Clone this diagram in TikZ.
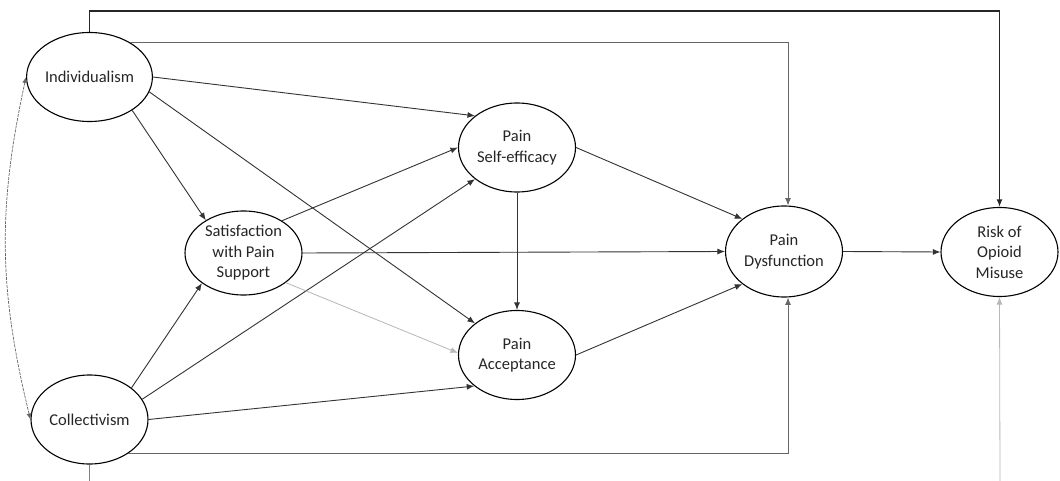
\documentclass[tikz,border=0pt]{standalone}
\usepackage{fontspec}
\setmainfont{Carlito}
\usetikzlibrary{shapes.geometric,arrows.meta}
\begin{document}
\begin{tikzpicture}[x=1pt,y=-1pt,
  latent/.style={draw=black,line width=1.1pt,ellipse,minimum width=117pt,minimum height=89pt,inner sep=0pt,align=center,font=\fontsize{16.5}{20.5}\selectfont,text=black!85},
  tip/.style={-{Latex[length=7.5pt,width=6pt]}},
  link/.style={draw=black!80,line width=0.9pt,tip},
  greylink/.style={draw=black!60,line width=1pt,tip},
  faintlink/.style={draw=black!28,line width=0.8pt,tip},
  heavylink/.style={draw=black!85,line width=1.5pt,tip},
  covlink/.style={draw=black!60,line width=0.7pt,dash pattern=on 3pt off 1pt,{Latex[length=6pt,width=5pt]}-{Latex[length=6pt,width=5pt]}}
]
\useasboundingbox[fill=white] (0,0) rectangle (1060,481);

\node[latent] (ind) at (89.5,77) {Individualism};
\node[latent] (col) at (89.5,419.5) {Collectivism};
\node[latent,minimum height=84pt] (sat) at (243.5,253) {Satisfaction\\with Pain\\Support};
\node[latent] (se) at (517,147.5) {Pain\\Self-efficacy};
\node[latent] (acc) at (517,355) {Pain\\Acceptance};
\node[latent,minimum height=91pt] (dys) at (784,251.5) {Pain\\Dysfunction};
\node[latent] (risk) at (999.5,252) {Risk of\\Opioid\\Misuse};

\coordinate (colend) at (89.5,481);
\coordinate (riskend) at (1000,481);

% covariance
\draw[covlink] (ind.west) to[bend right=13] (col.west);

% from Individualism
\draw[link] (ind.-38) -- (sat.139);
\draw[link] (ind.0) -- (se.143);
\draw[link] (ind.-14) -- (acc.143);
\draw[greylink] (ind.41) -- (ind.41 -| dys.85) -- (dys.85);
\draw[heavylink] (ind.north) -- ++(0,-21) -| (risk.north);

% from Collectivism
\draw[link] (col.37) -- (sat.216);
\draw[link] (col.21) -- (se.217);
\draw[link] (col.0) -- (acc.216);
\draw[greylink] (col.-41) -- (col.-41 -| dys.-85) -- (dys.-85);
\draw[draw=black!50,line width=0.9pt] (col.south) -- (colend);

% from Satisfaction
\draw[link] (sat.40) -- (se.180);
\draw[link] (sat.east) -- (dys.west);
\draw[faintlink] (sat.-35) -- (acc.178);

% mediators
\draw[link] (se.south) -- (acc.north);
\draw[link] (se.0) -- (dys.142);
\draw[link] (acc.0) -- (dys.218);
\draw[link] (dys.east) -- (risk.west);
\draw[faintlink] (riskend) -- (risk.south);
\end{tikzpicture}
\end{document}
